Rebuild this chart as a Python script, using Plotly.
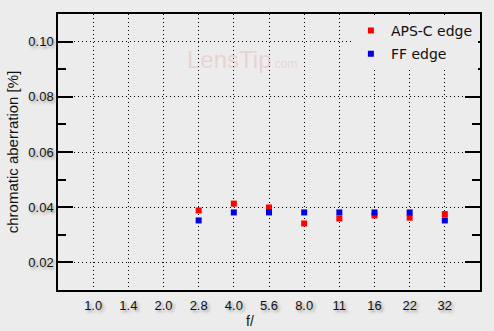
import plotly.graph_objects as go

categories = ["1.0", "1.4", "2.0", "2.8", "4.0", "5.6", "8.0", "11", "16", "22", "32"]
aps_c_edge = [None, None, None, 0.0388, 0.0413, 0.0399, 0.0341, 0.0359, 0.0370, 0.0362, 0.0375]
ff_edge = [None, None, None, 0.0352, 0.0381, 0.0381, 0.0381, 0.0381, 0.0381, 0.0381, 0.0352]
y_ticks = [0.02, 0.04, 0.06, 0.08, 0.10]

BG = "#ececec"
shadow = "2px 2px 3px #9a9a9a"

fig = go.Figure()
fig.add_trace(go.Scatter(x=categories, y=aps_c_edge, mode="markers", name="APS-C edge",
                         legendgroup="a",
                         marker=dict(symbol="square", size=6, color="#ff0000", line=dict(width=0))))
fig.add_trace(go.Scatter(x=categories, y=ff_edge, mode="markers", name="FF edge",
                         legendgroup="b",
                         marker=dict(symbol="square", size=6, color="#0000e0", line=dict(width=0))))

fig.add_annotation(text="LensTip<span style='font-size:12px'>.com</span>", xref="paper", yref="paper",
                   x=0.3, y=0.89, showarrow=False,
                   font=dict(family="Liberation Sans", size=24, color="rgba(230,160,160,0.35)"))
fig.add_annotation(text="f/", xref="paper", yref="paper", x=0.454, y=0, yshift=-31,
                   showarrow=False, yanchor="middle",
                   font=dict(family="Liberation Sans", size=14, color="#111"))

fig.update_layout(
    width=494, height=331,
    margin=dict(l=55, r=12, t=14, b=41),
    paper_bgcolor=BG, plot_bgcolor=BG,
    showlegend=True,
    legend=dict(x=0.995, y=0.997, xanchor="right", yanchor="top", bgcolor=BG,
                font=dict(family="DejaVu Sans", size=14, color="#111"),
                itemwidth=30, tracegroupgap=2, borderwidth=0),
    xaxis=dict(type="category", categoryorder="array", categoryarray=categories,
               range=[-1, 11], showline=True, linecolor="black", linewidth=1.5, mirror=True,
               showgrid=True, gridcolor="black", griddash="1px,3px", gridwidth=1,
               ticks="", zeroline=False, ticklabelstandoff=3,
               tickfont=dict(family="Liberation Sans", size=13, color="#111", shadow=shadow)),
    yaxis=dict(range=[0.01, 0.11], tickvals=y_ticks, tickformat=".2f",
               showline=True, linecolor="black", linewidth=1.5, mirror="ticks",
               ticks="inside", ticklen=15, tickcolor="black", tickwidth=1.5,
               minor=dict(ticks="inside", ticklen=8, tickcolor="black", dtick=0.01, showgrid=False),
               showgrid=True, gridcolor="black", griddash="1px,3px", gridwidth=1, zeroline=False,
               tickfont=dict(family="Liberation Sans", size=13, color="#111", shadow=shadow),
               title=dict(text="chromatic aberration [%]", standoff=6,
                          font=dict(family="Liberation Sans", size=15, color="#111"))),
)

fig.write_html("out.html")
